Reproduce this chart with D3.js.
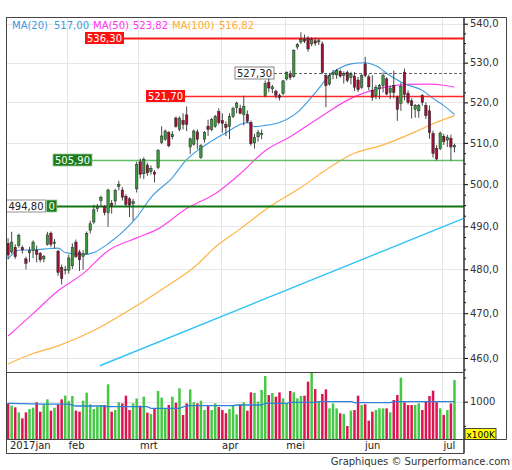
<!DOCTYPE html>
<html>
<head>
<meta charset="utf-8">
<script src="https://cdn.jsdelivr.net/npm/d3@7"></script>
<style>
  body { margin: 0; background: #fff; }
  svg text { font-family: "DejaVu Sans", Verdana, sans-serif; }
</style>
</head>
<body>
<div id="container"></div>
<script>
// dagkoersen 9 jan - 6 jul 2017 (index = handelsdag)
const opens = [
  486.0, 484.0, 485.1, 485.5, 485.0, 482.4, 483.8, 484.4, 484.4, 483.7, 482.4, 485.8, 488.4, 486.0, 484.2, 480.4, 479.8,
  479.8, 480.8, 486.3, 484.0, 483.0, 483.7, 489.1, 491.0, 494.2, 496.1, 494.6, 493.2, 495.4, 496.0, 499.4, 498.6, 497.1, 496.5, 495.3, 498.9,
  505.4, 502.5, 504.6, 503.0, 502.9, 504.0, 510.1, 510.9, 512.5, 511.5, 516.1, 513.3, 515.5, 516.9, 509.0, 509.7, 512.7, 506.5, 510.9, 514.1, 513.3, 514.1, 517.7,
  515.5, 514.5, 514.0, 516.5, 518.7, 518.5, 517.0, 517.0, 515.0, 510.0, 511.5, 512.0, 521.7, 525.0, 523.4, 522.8, 521.7, 522.2,
  525.9, 527.0, 526.5, 534.0, 535.3, 535.9, 536.2, 534.8, 535.6, 535.3, 534.8, 526.7, 524.6, 527.0, 526.9, 527.8, 526.8, 527.5, 526.2, 526.6, 525.6, 523.8,
  529.7, 526.4, 523.0, 521.7, 523.4, 524.2, 525.9, 522.5, 524.2, 521.3, 519.8, 527.6, 522.3, 520.4, 518.3, 517.9, 521.7, 519.2, 517.9, 512.3, 508.6, 508.6,
  511.6, 510.7, 511.1, 509.0
];
const highs = [
  487.2, 488.7, 485.8, 488.3, 485.5, 482.9, 485.2, 486.7, 485.5, 484.0, 483.3, 488.7, 488.8, 487.0, 484.5, 481.1, 480.8,
  483.4, 486.0, 486.9, 484.5, 484.4, 488.8, 491.3, 495.1, 495.3, 497.3, 495.0, 498.9, 496.2, 498.9, 500.8, 499.3, 497.6, 496.9, 496.5, 505.4,
  506.2, 506.5, 505.2, 504.5, 503.4, 508.5, 514.1, 513.3, 512.9, 512.9, 516.5, 516.5, 517.3, 519.0, 511.3, 513.3, 513.3, 509.7, 512.9, 515.7, 516.1, 516.9, 518.5,
  517.3, 515.3, 517.3, 518.9, 520.2, 519.4, 521.7, 518.0, 515.5, 512.2, 513.2, 513.3, 525.5, 525.9, 524.4, 523.2, 522.2, 525.6,
  527.8, 528.0, 533.4, 535.0, 537.8, 537.2, 536.8, 536.5, 536.4, 536.3, 535.4, 527.3, 527.4, 528.2, 528.4, 528.3, 527.8, 528.0, 527.7, 527.6, 526.4, 527.1,
  531.5, 527.0, 526.8, 524.4, 524.6, 527.5, 526.3, 524.2, 528.0, 521.7, 525.0, 528.5, 523.0, 521.0, 519.6, 519.6, 522.1, 520.0, 519.2, 513.0, 509.5, 512.8,
  512.2, 512.0, 512.0, 509.8
];
const lows = [
  482.3, 483.6, 482.4, 485.0, 483.6, 480.0, 481.7, 482.6, 481.6, 481.6, 481.6, 485.5, 485.1, 484.8, 478.5, 476.5, 478.8,
  479.0, 480.1, 482.6, 479.6, 479.9, 483.4, 488.3, 490.6, 493.4, 494.6, 492.6, 489.9, 493.0, 495.0, 498.5, 496.1, 494.6, 492.2, 491.4, 498.0,
  501.4, 501.2, 502.0, 502.3, 500.4, 503.6, 509.7, 510.5, 508.9, 510.9, 513.7, 512.9, 513.3, 512.9, 507.3, 509.3, 508.5, 506.1, 510.1, 511.7, 512.9, 513.7, 514.5,
  512.5, 511.7, 510.9, 516.1, 517.3, 517.1, 514.3, 514.8, 509.3, 508.6, 510.3, 510.9, 521.3, 522.6, 522.3, 521.0, 520.5, 521.8,
  525.5, 525.6, 526.2, 533.4, 534.8, 535.0, 532.8, 534.2, 534.3, 534.5, 527.2, 518.8, 524.2, 525.8, 525.9, 526.2, 524.7, 525.0, 524.5, 522.8, 522.6, 523.4,
  526.3, 523.0, 520.4, 520.8, 520.8, 522.5, 521.8, 520.8, 521.0, 515.4, 517.9, 520.5, 519.5, 516.0, 516.2, 516.2, 519.2, 515.9, 511.0, 506.4, 505.7, 508.2,
  509.5, 509.0, 505.7, 507.7
];
const closes = [
  483.3, 486.3, 482.9, 487.9, 484.5, 481.4, 484.3, 486.3, 483.4, 482.2, 482.9, 488.0, 485.8, 486.3, 479.3, 477.9, 480.0,
  482.6, 485.0, 482.9, 482.2, 483.6, 488.3, 490.6, 493.9, 494.6, 496.8, 493.2, 498.6, 494.9, 498.5, 500.0, 496.9, 495.2, 495.0, 495.9, 504.8,
  502.4, 506.0, 502.7, 503.8, 502.4, 508.1, 511.7, 512.9, 509.3, 512.1, 514.1, 516.1, 514.5, 514.5, 511.0, 512.9, 510.9, 509.3, 512.5, 513.3, 515.7, 516.5, 515.0,
  514.8, 513.8, 516.5, 518.5, 519.8, 517.3, 519.0, 515.3, 509.8, 511.3, 512.6, 512.3, 524.7, 523.6, 523.9, 521.8, 521.2, 525.4,
  527.5, 526.3, 533.1, 534.6, 536.0, 535.5, 533.5, 535.9, 535.0, 535.6, 527.5, 524.2, 526.8, 527.6, 528.0, 526.6, 527.3, 525.5, 527.1, 523.8, 523.2, 526.7,
  526.7, 523.9, 521.3, 523.8, 524.2, 526.7, 522.1, 523.6, 522.5, 518.3, 524.0, 522.0, 520.0, 519.2, 519.2, 519.2, 520.0, 516.7, 512.5, 507.4, 506.1, 512.4,
  510.3, 511.4, 509.0, 509.4
];
// volume in x100K
const volumes = [
  966, 918, 884, 780, 656, 780, 849, 877, 987, 794, 946, 1049, 815, 877, 946, 1049, 1125,
  1014, 1118, 815, 794, 1021, 1187, 946, 849, 897, 932, 932, 1359, 794, 828, 987, 966, 1125, 828, 966, 1069, 918, 1104,
  773, 746, 863, 1221, 1083, 849, 932, 1104, 980, 1276, 725, 966, 1255, 987, 966, 1021, 828, 918, 828, 966, 890, 828, 760, 849, 932,
  739, 946, 987, 815, 1193, 1180, 1001, 1242, 1531, 1138, 1180, 1104, 1193, 1069, 966, 1221, 1193, 1069, 1118,
  1125, 1414, 1620, 1262, 1001, 1159, 1255, 863, 966, 863, 760, 746, 498, 815, 828, 1125, 932, 946, 608, 794, 828, 863, 863,
  863, 780, 1035, 1138, 1496, 987, 932, 932, 932, 966, 828, 1001, 1118, 1228, 987, 863, 725, 828, 966, 1448
];
const ma20 = [[0,482.4],[3,484.4],[7,484.5],[12,484.8],[14,484.9],[16,483.9],[21,483.4],[24,483.9],[28,485.9],[33,489.4],[36,492.1],[40,496.8],[46,501.6],[50,505.9],[53,508.1],[56,509.9],[61,512.5],[65,514.5],[67,515.0],[69,514.0],[72,514.3],[76,515.0],[81,517.5],[86,522.4],[90,526.7],[93,528.7],[96,529.7],[100,530.0],[103,529.2],[107,526.7],[111,524.7],[116,523.0],[119,521.0],[122,519.2],[125,517.0]];
const ma50 = [[0,464.9],[7,469.9],[14,475.1],[21,479.0],[28,484.3],[36,487.3],[42,489.4],[50,494.2],[58,497.7],[65,502.5],[72,508.1],[79,511.5],[88,516.7],[96,521.0],[105,523.7],[112,524.5],[118,524.6],[122,524.3],[125,523.8]];
const ma100 = [[0,458.7],[7,461.0],[14,462.7],[24,466.1],[36,471.7],[44,475.9],[52,480.4],[58,485.1],[65,489.4],[73,494.5],[82,499.2],[90,504.0],[96,507.1],[105,509.5],[114,512.7],[119,514.7],[125,516.7]];
const volMA = [[0,966],[10,952],[17,952],[19,911],[26,911],[28,897],[39,897],[40,863],[48,863],[50,918],[63,918],[64,932],[71,932],[72,966],[78,966],[79,987],[86,987],[87,1001],[96,1001],[97,980],[107,980],[108,1001],[125,1001]];
const trend = [[25.7,458.3],[127.4,491.8]];

const monthStarts = [0, 17, 37, 60, 78, 100, 122];
const monthNames = ["2017jan", "feb", "mrt", "apr", "mei", "jun", "jul"];
const priceTicks = [460, 470, 480, 490, 500, 510, 520, 530, 540];
const legendNames = ["MA(20)", "MA(50)", "MA(100)"];
const legendValues = ["517,00", "523,82", "516,82"];

const width = 512, height = 470;
const L = 6.3, R = 464, T = 17, PB = 372, VB = 439, DB = 453;

const svg = d3.select("#container").append("svg")
  .attr("width", width).attr("height", height);

const x = d3.scaleLinear().domain([-0.5, 127.5]).range([L, 463.4]);
const y = d3.scaleLog().domain([456.93, 541.74]).range([PB, T]);
const yv = d3.scaleLinear().domain([229, 1614]).range([VB, PB]);
const comma = (f) => (d) => d3.format(f)(d).replace(".", ",");

svg.append("defs").append("clipPath").attr("id", "clipP")
  .append("rect").attr("x", L).attr("y", T).attr("width", R - L).attr("height", PB - T);

// raster
const grid = svg.append("g").attr("stroke", "#e6e6e6").attr("stroke-width", 1);
grid.selectAll("line.h").data(priceTicks).enter().append("line")
  .attr("x1", L).attr("x2", R).attr("y1", (d) => Math.round(y(d)) + 0.5).attr("y2", (d) => Math.round(y(d)) + 0.5);
grid.selectAll("line.v").data(monthStarts.slice(1)).enter().append("line")
  .attr("x1", (d) => Math.round(x(d - 0.5)) + 0.5).attr("x2", (d) => Math.round(x(d - 0.5)) + 0.5)
  .attr("y1", T).attr("y2", VB);
grid.append("line").attr("x1", L).attr("x2", R)
  .attr("y1", Math.round(yv(1000)) + 0.5).attr("y2", Math.round(yv(1000)) + 0.5);

// trendlijn en gemiddelden
const pane = svg.append("g").attr("clip-path", "url(#clipP)");
const line = d3.line().x((d) => x(d[0])).y((d) => y(d[1])).curve(d3.curveMonotoneX);
pane.append("path").datum(trend).attr("d", d3.line().x((d) => x(d[0])).y((d) => y(d[1])))
  .attr("fill", "none").attr("stroke", "#33c4f5").attr("stroke-width", 1.4);
pane.append("path").datum(ma100).attr("d", line).attr("fill", "none").attr("stroke", "#ffb445").attr("stroke-width", 1.2);
pane.append("path").datum(ma50).attr("d", line).attr("fill", "none").attr("stroke", "#ff44ee").attr("stroke-width", 1.2);

// niveaus
function tag(x0, v, text, fill, stroke, color) {
  const yy = Math.round(y(v));
  const g = svg.append("g");
  const t = g.append("text").attr("x", x0 + 2).attr("y", yy + 4)
    .attr("fill", color).style("font-size", "10px").text(text);
  const w = t.node().getComputedTextLength() + 4;
  g.insert("rect", "text").attr("x", x0).attr("y", yy - 6).attr("width", w).attr("height", 12)
    .attr("fill", fill).attr("stroke", stroke).attr("stroke-width", stroke === "none" ? 0 : 0.8);
  return x0 + w;
}
function level(x0, v, color, w, dash) {
  svg.append("line").attr("x1", x0).attr("x2", R).attr("y1", Math.round(y(v)) + 0.5).attr("y2", Math.round(y(v)) + 0.5)
    .attr("stroke", color).attr("stroke-width", w).attr("stroke-dasharray", dash || null);
}
level(tag(85, 536.3, "536,30", "#ff1010", "none", "#fff"), 536.3, "#ff1a1a", 2);
level(tag(146, 521.7, "521,70", "#ff1010", "none", "#fff"), 521.7, "#ff2a2a", 1.5);
level(tag(235, 527.3, "527,30", "#fff", "#666", "#222"), 527.3, "#666", 1, "3,2");
level(tag(53, 505.9, "505,90", "#1c7c1c", "#9c9", "#fff"), 505.9, "#66bb66", 1.5);
const e = tag(6.5, 494.8, "494,80", "#fff", "#777", "#222");
level(tag(e + 1, 494.8, "0", "#1c7c1c", "#9c9", "#fff"), 494.8, "#117711", 2.2);

pane.append("path").datum(ma20).attr("d", line).attr("fill", "none").attr("stroke", "#3c9ae0").attr("stroke-width", 1.1);

// kaarsen
const idx = d3.range(closes.length);
const candles = svg.append("g").attr("clip-path", "url(#clipP)");
candles.selectAll("line.w").data(idx).enter().append("line")
  .attr("x1", (i) => x(i)).attr("x2", (i) => x(i))
  .attr("y1", (i) => y(highs[i])).attr("y2", (i) => y(lows[i]))
  .attr("stroke", "#333").attr("stroke-width", 0.9);
candles.selectAll("rect").data(idx).enter().append("rect")
  .attr("x", (i) => x(i) - 1.2).attr("width", 2.4)
  .attr("y", (i) => y(Math.max(opens[i], closes[i])))
  .attr("height", (i) => Math.max(1, Math.abs(y(opens[i]) - y(closes[i]))))
  .attr("fill", (i) => (closes[i] >= opens[i] ? "#3a9a3a" : "#9b1033"))
  .attr("stroke", "#222").attr("stroke-width", 0.5);

// volume
svg.append("g").selectAll("rect").data(idx).enter().append("rect")
  .attr("x", (i) => x(i) - 1.25).attr("width", 2.5)
  .attr("y", (i) => Math.max(PB, yv(volumes[i])))
  .attr("height", (i) => VB - Math.max(PB, yv(volumes[i])))
  .attr("fill", (i) => (closes[i] >= opens[i] ? "#44c944" : "#dc1450"));
svg.append("path").datum(volMA)
  .attr("d", d3.line().x((d) => x(d[0])).y((d) => yv(d[1])))
  .attr("fill", "none").attr("stroke", "#2f80d8").attr("stroke-width", 1.3);

// assen
const ax = svg.append("g").attr("transform", `translate(${R},0)`)
  .call(d3.axisRight(y).tickValues(priceTicks).tickSize(4).tickPadding(2).tickFormat(comma(".1f")));
const minor = d3.range(457.5, 541, 2.5).filter((d) => d % 10 !== 0);
svg.append("g").attr("transform", `translate(${R},0)`)
  .call(d3.axisRight(y).tickValues(minor).tickSize(2).tickFormat(""))
  .select(".domain").remove();
const vax = svg.append("g").attr("transform", `translate(${R},0)`)
  .call(d3.axisRight(yv).tickValues([1000]).tickSize(4).tickPadding(2).tickFormat(d3.format("d")));
svg.append("g").attr("transform", `translate(${R},0)`)
  .call(d3.axisRight(yv).tickValues([500, 1500]).tickSize(2).tickFormat(""))
  .select(".domain").remove();
svg.selectAll(".tick text").style("font-size", "10px").attr("fill", "#333");
ax.select(".domain").attr("d", `M0,${T}V${PB}`);
vax.select(".domain").attr("d", `M0,${PB}V${DB}`);

// kaders
const frame = svg.append("g").attr("fill", "none").attr("stroke", "#444").attr("stroke-width", 1);
frame.append("rect").attr("x", 6.5).attr("y", T + 0.5).attr("width", R - 6.5).attr("height", DB - T);
frame.append("line").attr("x1", 6.5).attr("x2", R).attr("y1", PB + 0.5).attr("y2", PB + 0.5);
frame.append("line").attr("x1", 6.5).attr("x2", R).attr("y1", VB + 0.5).attr("y2", VB + 0.5);
frame.append("path").attr("d", `M${R},${T + 0.5}H506.5V${VB + 0.5}H${R}`);

// maanden
svg.append("g").selectAll("text").data(monthStarts).enter().append("text")
  .attr("x", (d, i) => (i === 0 ? 10 : x(d - 0.5) + 1.5)).attr("y", 449)
  .style("font-size", "10px").attr("fill", "#222")
  .text((d, i) => monthNames[i]);

// x100K
svg.append("rect").attr("x", 465).attr("y", 428.5).attr("width", 31).attr("height", 11)
  .attr("fill", "#ffff00").attr("stroke", "#222").attr("stroke-width", 0.8);
svg.append("text").attr("x", 466.5).attr("y", 437.5).style("font-size", "9px").attr("fill", "#000").text("x100K");

// legenda
const legendColors = ["#3a9ae0", "#ff33ee", "#ffaa33"];
const legendX = [12, 54, 93, 133, 172, 219];
legendNames.forEach((n, i) => {
  svg.append("text").attr("x", legendX[i * 2]).attr("y", 28.5).style("font-size", "10px")
    .attr("fill", legendColors[i]).text(n);
  svg.append("text").attr("x", legendX[i * 2 + 1]).attr("y", 28.5).style("font-size", "10px")
    .attr("fill", legendColors[i]).text(legendValues[i]);
});

svg.append("text").attr("x", 510).attr("y", 465).attr("text-anchor", "end")
  .style("font-size", "10px").attr("fill", "#333").text("Graphiques © Surperformance.com");
</script>
</body>
</html>
